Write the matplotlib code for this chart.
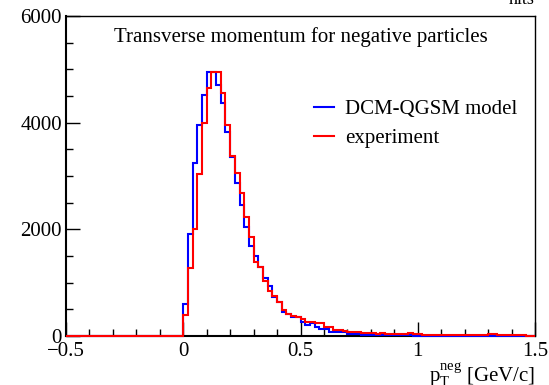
import numpy as np
import matplotlib
matplotlib.use("Agg")
import matplotlib.pyplot as plt
from matplotlib.ticker import MultipleLocator

plt.rcParams['font.family'] = ['Liberation Serif', 'DejaVu Serif']
plt.rcParams['mathtext.fontset'] = 'custom'
plt.rcParams['mathtext.rm'] = 'Liberation Serif'
plt.rcParams['mathtext.it'] = 'Liberation Serif'

# histogram: 0.02 bins from -0.5 to 1.5, counts given from pT = 0 upwards
x_min, x_max, bin_w = -0.5, 1.5, 0.02
model = [600, 1906, 3238, 3956, 4519, 4944, 4944, 4706, 4375, 3831,
         3363, 2863, 2456, 2050, 1688, 1500, 1300, 1081, 938, 738,
         644, 456, 412, 360, 350, 269, 206, 238, 163, 125,
         125, 81, 81, 70, 70, 38, 38, 30, 25, 25,
         20, 20, 18, 15, 15, 12, 12, 10, 10, 8,
         8, 8, 6, 6, 6, 5, 5, 5, 4, 4,
         4, 4, 3, 3, 3, 3, 3, 2, 2, 2,
         2, 2, 2, 1, 1]
experiment = [400, 1281, 2000, 3040, 3990, 4644, 4956, 4956, 4563, 3956,
              3375, 3063, 2675, 2238, 1863, 1394, 1300, 1038, 850, 756,
              644, 488, 412, 381, 360, 319, 269, 269, 238, 250,
              175, 175, 113, 113, 100, 81, 81, 81, 50, 50,
              60, 45, 50, 45, 40, 38, 38, 44, 56, 31,
              31, 25, 25, 19, 19, 15, 15, 13, 13, 13,
              12, 12, 12, 12, 12, 44, 34, 12, 10, 10,
              10, 10, 10, 8, 8]
xticks = [-0.5, 0, 0.5, 1, 1.5]
xtick_labels = ["\u22120.5", "0", "0.5", "1", "1.5"]
yticks = [0, 2000, 4000, 6000]

edges = np.round(np.arange(x_min, x_max + bin_w / 2, bin_w), 4)
n_neg = int(round((0 - x_min) / bin_w))
h_model = np.concatenate([np.zeros(n_neg), model])
h_exp = np.concatenate([np.zeros(n_neg), experiment])

fig = plt.figure(figsize=(5.49, 3.85), dpi=100)
ax = fig.add_axes([66/549, 1 - 336/385, 469/549, 320/385])

ax.stairs(h_model, edges, color='#0000ff', lw=1.5, label='DCM-QGSM model', zorder=3, clip_on=False)
ax.stairs(h_exp, edges, color='#ff0000', lw=1.5, label='experiment', zorder=3, clip_on=False)

ax.set_xlim(x_min, x_max)
ax.set_ylim(0, 6000)
ax.set_xticks(xticks, xtick_labels)
ax.set_yticks(yticks)
ax.xaxis.set_minor_locator(MultipleLocator(0.1))
ax.yaxis.set_minor_locator(MultipleLocator(500))
ax.tick_params(which='both', direction='in', labelsize=15, top=False, right=False)
ax.tick_params(which='major', length=10, width=1)
ax.tick_params(which='minor', length=5, width=1)
ax.tick_params(axis='x', pad=4)
ax.tick_params(axis='y', pad=3)
for s in ['left', 'bottom']:
    ax.spines[s].set_linewidth(1.5)
for s in ['top', 'right']:
    ax.spines[s].set_linewidth(1)

ax.text(0.5, 0.934, "Transverse momentum for negative particles", transform=ax.transAxes,
        ha='center', va='center', fontsize=15)
ax.text(1.0, -0.144, r"$\mathrm{p_{T}^{neg}}$ [GeV/c]", transform=ax.transAxes,
        ha='right', va='baseline', fontsize=15)
fig.text(535/549, 1.0, "hits", ha='right', va='center', fontsize=13)

ax.legend(loc='upper left', bbox_to_anchor=(0.51, 0.765), frameon=False, fontsize=15,
          handlelength=1.0, handletextpad=0.5, labelspacing=0.45, borderaxespad=0)

fig.savefig("out.png", dpi=100)
